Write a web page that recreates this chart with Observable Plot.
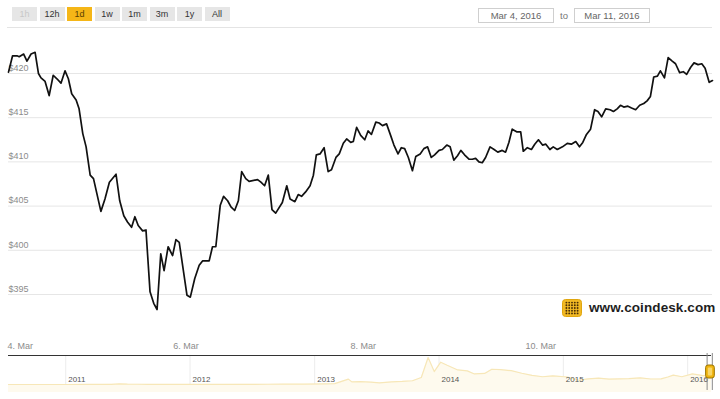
<!DOCTYPE html>
<html>
<head>
<meta charset="utf-8">
<script src="https://cdn.jsdelivr.net/npm/d3@7"></script>
<script src="https://cdn.jsdelivr.net/npm/@observablehq/plot@0.6"></script>
<style>
  html, body { margin: 0; padding: 0; background: #fff; }
  body { width: 720px; height: 399px; position: relative; overflow: hidden; font-family: "Liberation Sans", Arial, sans-serif; }
  .btn { position: absolute; top: 7px; width: 25px; height: 14px; background: #e6e6e6; color: #333; font-size: 9px; line-height: 14px; text-align: center; }
  .btn.off { color: #c8c8c8; }
  .btn.on { background: #f5b617; color: #5a3f00; }
  .datebox { position: absolute; top: 8px; height: 13px; border: 1px solid #cfcfcf; color: #666; font-size: 9.5px; line-height: 13px; text-align: center; background: #fff; }
  .to { position: absolute; top: 8px; left: 560px; color: #777; font-size: 9.5px; line-height: 15px; }
  .divider { position: absolute; top: 27px; left: 7px; width: 705px; height: 1px; background: #e4e4e4; }
  #main { position: absolute; top: 28px; left: 0; }
  #nav { position: absolute; top: 350px; left: 0; }
  .logo { position: absolute; left: 562px; top: 298px; height: 19px; display: flex; align-items: center; }
  .logo span { margin-left: 7px; font-family: "Liberation Sans", Arial, sans-serif; font-weight: bold; font-size: 13.5px; color: #1e1e1e; letter-spacing: 0.1px; }
</style>
</head>
<body>
<div id="main"></div>
<div id="nav"></div>
<div class="divider"></div>
<div id="buttons"></div>
<div class="datebox" style="left:478px;width:74px;">Mar 4, 2016</div>
<div class="to">to</div>
<div class="datebox" style="left:574px;width:74px;">Mar 11, 2016</div>
<div class="logo">
  <svg width="20" height="18" viewBox="0 0 20 18" id="logoicon"></svg>
  <span>www.coindesk.com</span>
</div>
<script>
// ---- data: hourly BPI price, Mar 4 – Mar 11, 2016 ----
const startDate = "2016-03-04T00:00Z";
const hours = [0,1.1,2.3,2.9,4.1,5.0,6.1,7.2,8.1,8.8,9.9,11.0,12.1,13.1,14.2,15.3,16.2,17.1,18.3,19.1,20.1,21.0,22.1,23.0,25.0,26.1,27.3,29.1,30.1,31.2,32.2,33.3,34.2,35.1,36.3,37.2,38.3,39.3,40.2,41.2,42.1,43.2,44.4,45.3,46.2,48.3,49.2,50.4,51.6,52.5,54.3,55.2,56.1,57.3,58.2,59.3,60.2,61.2,62.2,63.1,64.2,65.1,67.4,68.3,69.3,70.3,71.3,72.3,74.1,75.3,76.2,77.5,78.4,79.3,80.4,81.6,82.5,83.3,84.3,85.4,86.5,87.4,88.6,89.5,90.6,91.5,92.6,93.3,94.2,95.3,96.4,97.3,98.2,99.4,100.3,101.2,102.3,103.4,104.3,105.4,106.3,107.2,108.2,109.3,110.2,111.4,112.4,113.4,114.4,115.3,116.5,117.4,118.6,119.5,120.5,121.5,122.4,123.4,124.6,125.5,126.4,127.3,128.2,129.1,130.3,131.4,132.4,133.6,134.5,135.4,136.3,137.5,138.6,139.3,140.4,141.5,142.4,143.4,144.5,145.4,146.5,147.4,148.5,149.9,151.2,152.3,153.5,154.5,155.4,156.4,157.5,158.6,159.5,160.5,161.6,162.8,163.7,164.7,165.6,166.5,167.6,168.6,169.7,170.8,171.9,172.8,173.7,174.6,175.6,176.4,177.5,178.5,179.6,180.5,181.6,182.6,183.5,184.6,185.5,186.6,187.6,188.5,189.6,190.5];
const prices = [420.15,422.0,422.0,421.9,422.2,421.4,422.2,422.4,420.0,419.5,419.1,417.5,419.8,419.4,418.9,420.3,419.4,417.7,417.0,416.0,413.2,411.7,408.5,408.1,404.4,405.8,407.7,408.6,405.6,403.9,403.2,402.6,403.8,402.8,402.2,402.3,395.3,394.0,393.3,399.6,397.7,400.4,399.4,401.2,400.9,394.9,394.7,396.8,398.3,398.8,398.8,400.4,400.4,405.1,406.1,405.6,404.9,404.5,405.6,408.9,408.1,407.8,408.0,407.7,407.3,408.5,404.6,404.2,405.4,407.3,405.8,405.5,406.3,406.1,406.6,407.3,408.5,410.8,410.9,411.6,408.9,409.1,410.5,410.9,412.1,412.6,412.2,412.3,413.9,413.0,412.5,413.5,413.1,414.5,414.4,414.1,414.3,413.0,411.9,410.9,411.6,411.5,410.5,409.0,410.6,410.9,411.5,411.7,410.5,410.8,411.3,411.4,411.9,411.7,410.2,410.7,411.3,410.8,410.3,410.3,410.4,410.0,409.9,410.5,411.7,411.4,411.1,411.3,411.1,412.2,413.7,413.4,413.4,411.2,411.6,411.4,412.0,412.5,411.9,412.0,411.4,411.7,411.4,411.7,412.1,412.0,412.3,411.7,412.2,413.1,413.7,415.9,415.7,415.1,416.0,415.9,415.7,416.0,416.4,416.2,416.3,416.1,415.9,416.4,416.6,416.9,417.4,419.6,419.7,420.3,419.5,421.8,421.4,421.1,420.1,420.2,419.9,420.7,421.2,421.0,421.1,420.6,419.0,419.2];
const yTicks = [395, 400, 405, 410, 415, 420];
const xTickDates = ["2016-03-04", "2016-03-06", "2016-03-08", "2016-03-10"];
const buttonLabels = ["1h", "12h", "1d", "1w", "1m", "3m", "1y", "All"];
const activeButton = "1d";
const disabledButton = "1h";

// ---- navigator data: full BPI history (approx.) ----
const navDates = ["2010-07-17","2010-09-01","2010-11-01","2011-01-01","2011-03-01","2011-04-15","2011-05-15","2011-06-08","2011-07-01","2011-08-01","2011-09-01","2011-10-15","2011-11-15","2011-12-15","2012-02-01","2012-04-01","2012-06-01","2012-08-15","2012-10-01","2012-12-01","2013-02-01","2013-03-01","2013-04-10","2013-04-20","2013-05-15","2013-06-15","2013-07-10","2013-08-15","2013-09-15","2013-10-15","2013-11-10","2013-11-30","2013-12-18","2014-01-06","2014-01-25","2014-02-25","2014-03-25","2014-04-15","2014-05-15","2014-06-05","2014-07-01","2014-08-01","2014-09-01","2014-10-01","2014-11-01","2014-12-01","2015-01-14","2015-02-15","2015-03-15","2015-04-15","2015-05-15","2015-06-15","2015-07-12","2015-08-15","2015-09-15","2015-10-15","2015-11-04","2015-11-20","2015-12-15","2016-01-15","2016-02-15","2016-03-11"];
const navPrices = [0.07,0.06,0.25,0.3,0.9,1.5,8,29,14,10,5,3,2.5,4,5,5,6,11,12,13,25,35,230,110,120,100,70,110,130,160,300,1150,550,950,820,620,580,450,470,650,630,590,480,390,330,370,320,180,240,270,230,240,250,285,235,240,320,400,330,450,380,400,415];
const navYears = ["2011-01-01","2012-01-01","2013-01-01","2014-01-01","2015-01-01","2016-01-01"];

// ---- build ----
const t0 = new Date(startDate).getTime();
const series = hours.map((h, i) => ({date: new Date(t0 + h * 3600e3), price: prices[i]}));
const xTicks = xTickDates.map(d => new Date(d + "T00:00Z"));
const fmtTick = d => `${d.getUTCDate()}. Mar`;

const main = Plot.plot({
  width: 720,
  height: 322,
  marginTop: 12,
  marginBottom: 15,
  marginLeft: 8,
  marginRight: 8,
  style: {fontFamily: "'Liberation Sans', Arial, sans-serif", fontSize: "9px", background: "transparent", overflow: "visible"},
  x: {type: "utc", domain: [series[0].date, series[series.length - 1].date]},
  y: {domain: [390.36, 423.73]},
  marks: [
    Plot.gridY(yTicks, {stroke: "#e6e6e6", strokeOpacity: 1}),
    Plot.axisY(yTicks, {anchor: "left", tickSize: 0, tickPadding: 0, textAnchor: "start", dy: -5.5, tickFormat: d => "$" + d, fill: "#8c8c8c", label: null}),
    Plot.axisX(xTicks.slice(0, 1), {anchor: "bottom", tickSize: 0, tickPadding: 7, textAnchor: "start", dx: -1, tickFormat: fmtTick, fill: "#8c8c8c", label: null}),
    Plot.axisX(xTicks.slice(1), {anchor: "bottom", tickSize: 0, tickPadding: 7, tickFormat: fmtTick, fill: "#8c8c8c", label: null}),
    Plot.line(series, {x: "date", y: "price", stroke: "#111", strokeWidth: 1.7, strokeLinejoin: "round"})
  ]
});
document.getElementById("main").appendChild(main);

// navigator
const nav = navDates.map((d, i) => ({date: new Date(d + "T00:00Z"), price: navPrices[i]}));
const years = navYears.map(d => new Date(d + "T00:00Z"));
const navY = [-341, 1235];
const selStart = series[0].date, selEnd = series[series.length - 1].date;

function handleMark(index, scales) {
  const xa = scales.x(selStart), xb = scales.x(selEnd);
  const g = d3.create("svg:g");
  g.append("line").attr("x1", xa - 1.5).attr("x2", xa - 1.5).attr("y1", 3).attr("y2", 40).attr("stroke", "#8a8a8a");
  g.append("line").attr("x1", xb + 1).attr("x2", xb + 1).attr("y1", 3).attr("y2", 40).attr("stroke", "#8a8a8a");
  g.append("rect").attr("x", xa - 3).attr("y", 15).attr("width", xb - xa + 6).attr("height", 13).attr("rx", 2.5)
    .attr("fill", "#efb40f").attr("stroke", "#9c7400").attr("stroke-width", 1);
  g.append("rect").attr("x", xa - 0.8).attr("y", 17.5).attr("width", Math.max(1.5, xb - xa + 1.6)).attr("height", 8).attr("rx", 1)
    .attr("fill", "#f8d66a");
  return g.node();
}

const navPlot = Plot.plot({
  width: 720,
  height: 45,
  marginTop: 5,
  marginBottom: 3,
  marginLeft: 8,
  marginRight: 9,
  style: {fontFamily: "'Liberation Sans', Arial, sans-serif", fontSize: "8px", background: "transparent", overflow: "visible"},
  x: {type: "utc", domain: [nav[0].date, nav[nav.length - 1].date], axis: null},
  y: {domain: navY, axis: null},
  marks: [
    Plot.gridX(years, {stroke: "#ececec", strokeOpacity: 1}),
    Plot.areaY(nav, {x: "date", y1: navY[0], y2: "price", fill: "#fefaee"}),
    Plot.lineY(nav, {x: "date", y: "price", stroke: "#f7e7b8", strokeWidth: 1.2}),
    Plot.text(years, {x: d => d, text: d => String(d.getUTCFullYear()), frameAnchor: "bottom", dy: -11, dx: 2.5, textAnchor: "start", fill: "#555", fontSize: 8}),
    Plot.ruleY([navY[1]], {stroke: "#333", strokeWidth: 1.2}),
    handleMark
  ]
});
document.getElementById("nav").appendChild(navPlot);

// range selector buttons
const bwrap = document.getElementById("buttons");
buttonLabels.forEach((b, i) => {
  const el = document.createElement("div");
  el.className = "btn" + (b === activeButton ? " on" : "") + (b === disabledButton ? " off" : "");
  el.style.left = (12 + i * 27.5) + "px";
  el.textContent = b;
  bwrap.appendChild(el);
});

// coindesk logo icon
const icon = d3.select("#logoicon");
icon.append("rect").attr("x", 0.5).attr("y", 0.5).attr("width", 19).attr("height", 17).attr("rx", 3).attr("fill", "#f2b924").attr("stroke", "#e0a60e");
d3.range(5).forEach(r => d3.range(5).forEach(c => {
  icon.append("circle").attr("cx", 4.4 + c * 2.8).attr("cy", 3.6 + r * 2.7).attr("r", 0.95).attr("fill", "#4a2f05");
}));
</script>
</body>
</html>
